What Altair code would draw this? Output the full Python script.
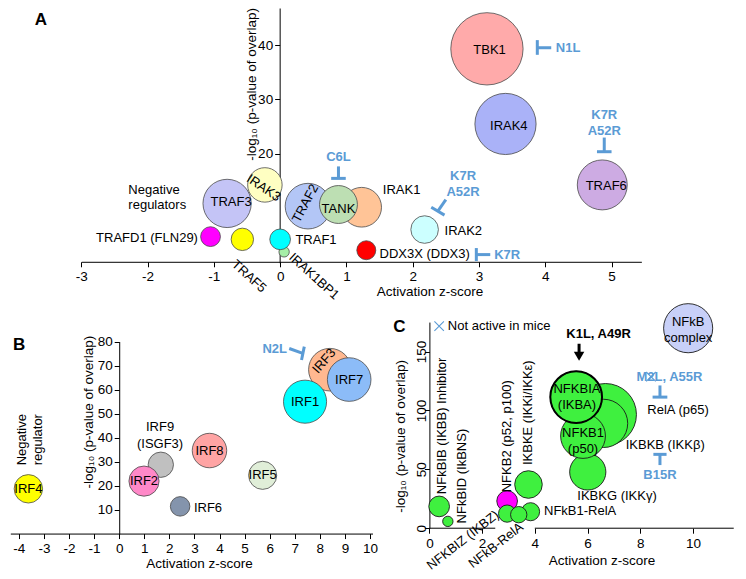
import altair as alt
import pandas as pd

FONT = "Liberation Sans"
BLUE = "#5b9bd5"
GREEN = "#3ff03f"
EDGE = "#4a4a4a"
YTITLE = "-log\u2081\u2080 (p-value of overlap)"
XTITLE = "Activation z-score"

# ---------------- Panel A data ----------------
A_NAMES = ["IRAK1BP1", "TRAF1", "TRAFD1", "TRAF5", "IRAK3", "TRAF3", "IRAK1",
           "TRAF2", "TANK", "DDX3X", "IRAK2", "TRAF6", "TBK1", "IRAK4"]
A_Z = [0.06, 0.00, -1.05, -0.57, -0.23, -0.80, 1.23, 0.42, 0.88, 1.30, 2.18, 4.86, 3.12, 3.40]
A_P = [2.0, 4.3, 4.8, 4.3, 14.3, 10.9, 10.2, 10.4, 10.7, 2.3, 6.1, 14.3, 39.3, 25.5]
A_SIZE = [0.36, 1.44, 1.32, 1.69, 4.0, 7.84, 5.3, 7.0, 4.84, 1.21, 2.56, 8.4, 17.6, 12.6]
A_COLORS = ["#a6eea6", "#00ffff", "#ff00ff", "#ffff00", "#ffffc2", "#c4c4f6", "#ffc497",
            "#b3c6f6", "#bddfb3", "#ff0000", "#ccffff", "#cdabe3", "#ffaaaa", "#aab2f8"]
A_XTICKS = [-3, -2, -1, 0, 1, 2, 3, 4, 5]
A_YTICKS = [20, 30, 40]

A_LEVEL_TEXT = ["TBK1", "IRAK4", "TRAF6", "TRAF3", "TANK"]
A_LEVEL_Z = [3.16, 3.45, 4.92, -0.74, 0.88]
A_LEVEL_P = [39.1, 25.2, 14.1, 11.1, 9.8]
A_RIGHT_TEXT = ["IRAK1", "TRAF1", "IRAK2", "DDX3X (DDX3)", "Negative\nregulators"]
A_RIGHT_Z = [1.55, 0.23, 2.48, 1.50, -2.29]
A_RIGHT_P = [13.4, 4.1, 5.9, 1.6, 13.4]
A_LEFT_TEXT = ["TRAFD1 (FLN29)"]
A_LEFT_Z = [-1.24]
A_LEFT_P = [4.5]
A_DOWN_TEXT = ["TRAF5", "IRAK1BP1"]
A_DOWN_Z = [-0.47, 0.51]
A_DOWN_P = [-2.5, -2.5]
A_TILT_TEXT = ["IRAK3"]
A_TILT_Z = [-0.25]
A_TILT_P = [13.75]
A_UP_TEXT = ["TRAF2"]
A_UP_Z = [0.38]
A_UP_P = [10.9]
A_BLUE_C_TEXT = ["C6L", "K7R\nA52R", "K7R\nA52R"]
A_BLUE_C_Z = [0.88, 4.89, 2.76]
A_BLUE_C_P = [19.5, 27.1, 15.9]
A_BLUE_L_TEXT = ["N1L", "K7R"]
A_BLUE_L_Z = [4.16, 3.23]
A_BLUE_L_P = [39.5, 1.5]
A_T_Z = [0.88, 0.77, 3.88, 3.88, 4.89, 4.78, 2.50, 2.28, 2.96, 2.96]
A_T_P = [17.7, 15.5, 40.9, 39.5, 23.0, 20.4, 11.6, 10.2, 2.7, 1.5]
A_T_Z2 = [0.88, 0.99, 3.88, 4.09, 4.89, 5.00, 2.38, 2.48, 2.96, 3.17]
A_T_P2 = [15.5, 15.5, 38.2, 39.5, 20.4, 20.4, 9.5, 8.75, 0.3, 1.5]

# ---------------- Panel B data ----------------
B_NAMES = ["IRF9", "IRF2", "IRF4", "IRF6", "IRF8", "IRF5", "IRF3", "IRF1", "IRF7"]
B_Z = [1.66, 0.99, -3.62, 2.43, 3.60, 5.72, 8.40, 7.41, 9.17]
B_P = [28.8, 22.0, 18.8, 11.5, 34.7, 24.4, 68.3, 55.0, 64.2]
B_SIZE = [2.16, 3.06, 2.72, 1.28, 4.0, 2.66, 6.1, 6.25, 6.4]
B_COLORS = ["#c0c0c0", "#ff88c8", "#ffff00", "#8494ac", "#ffa4a4", "#e0eed8",
            "#ffb890", "#00ffff", "#8cbcf8"]
B_XTICKS = [-4, -3, -2, -1, 0, 1, 2, 3, 4, 5, 6, 7, 8, 9, 10]
B_YTICKS = [10, 20, 30, 40, 50, 60, 70, 80]

B_LEVEL_TEXT = ["IRF2", "IRF4", "IRF8", "IRF5", "IRF1", "IRF7", "IRF9\n(ISGF3)"]
B_LEVEL_Z = [0.99, -3.62, 3.60, 5.72, 7.41, 9.17, 1.63]
B_LEVEL_P = [22.0, 18.8, 34.7, 24.4, 55.0, 64.2, 44.4]
B_RIGHT_TEXT = ["IRF6"]
B_RIGHT_Z = [2.98]
B_RIGHT_P = [10.9]
B_TILT_TEXT = ["IRF3"]
B_TILT_Z = [8.17]
B_TILT_P = [71.9]
B_VERT_TEXT = ["Negative\nregulator"]
B_VERT_Z = [-3.86]
B_VERT_P = [39.2]
B_BLUE_TEXT = ["N2L"]
B_BLUE_Z = [6.2]
B_BLUE_P = [77.1]
B_T_Z = [6.78, 7.38]
B_T_P = [77.1, 77.9]
B_T_Z2 = [7.32, 7.27]
B_T_P2 = [75.1, 72.3]

# ---------------- Panel C data ----------------
C_NAMES = ["NFkB complex", "RelA", "IKBKB", "IKBKG", "NFKB1", "NFKBIA", "NFKBIB",
           "NFKBID", "NFKB2", "IKBKE", "NFKBIZ", "NFkB1-RelA", "NFkB-RelA"]
C_Z = [9.82, 6.68, 6.61, 6.01, 5.83, 5.57, 0.37, 0.70, 2.95, 3.76, 2.95, 3.84, 3.39]
C_P = [169.8, 96.5, 89.0, 47.8, 78.3, 111.3, 18.5, 5.8, 23.1, 37.1, 12.4, 14.0, 11.5]
C_SIZE = [8.12, 12.96, 7.84, 4.41, 6.76, 9.0, 1.44, 0.36, 1.44, 2.56, 1.0, 1.1, 0.9]
C_COLORS = ["#c8d0f8", GREEN, GREEN, GREEN, GREEN, GREEN, GREEN,
            GREEN, "#ff00ff", GREEN, GREEN, GREEN, GREEN]
C_HIGHLIGHT = ["NFKBIA"]
C_XTICKS = [0, 2, 4, 6, 8, 10]
C_YTICKS = [0, 50, 100, 150]
C_AXIS_Z = [0.0, 4.0]
C_AXIS_Z2 = [2.5, 11.55]

C_LEVEL_TEXT = ["NFKBIA\n(IKBA)", "NFKB1\n(p50)", "NFkB\ncomplex", "IKBKG (IKK\u03b3)"]
C_LEVEL_Z = [5.6, 5.83, 9.82, 7.12]
C_LEVEL_P = [117.9, 80.8, 174.8, 27.2]
C_RIGHT_TEXT = ["NFkB1-RelA", "RelA (p65)", "IKBKB (IKK\u03b2)", "Not active in mice"]
C_RIGHT_Z = [4.35, 8.27, 7.45, 0.70]
C_RIGHT_P = [14.8, 100.6, 70.9, 171.5]
C_UP_TEXT = ["NFkBIB (IKBB) Inhibitor", "NFkBID (IkBNS)", "NFKB2 (p52, p100)", "IKBKE (IKKi/IKK\u03b5)"]
C_UP_Z = [0.46, 1.22, 2.94, 3.73]
C_UP_P = [28.9, 4.1, 30.5, 53.6]
C_SLANT_TEXT = ["NFKBIZ (IKBZ)", "NFkB-RelA"]
C_SLANT_Z = [2.58, 3.50]
C_SLANT_P = [12.6, 2.4]
C_BLUE_TEXT = ["M2L, A55R", "B15R"]
C_BLUE_Z = [9.11, 8.75]
C_BLUE_P = [128.6, 45.3]
C_BOLD_TEXT = ["K1L, A49R"]
C_BOLD_Z = [6.42]
C_BOLD_P = [164.9]
C_CROSS_Z = [0.37, 8.41]
C_CROSS_P = [171.5, 128.6]
C_T_Z = [8.75, 8.47, 8.50, 8.75]
C_T_P = [121.2, 111.3, 62.7, 62.7]
C_T_Z2 = [8.75, 9.03, 9.00, 8.75]
C_T_P2 = [111.3, 111.3, 62.7, 53.6]
C_ARROW_Z = [5.68]
C_ARROW_P = [156.6]
C_ARROW_P2 = [149.0]
C_HEAD_P = [146.0]

LETTERS = ["A", "B", "C"]
LETTER_Z = [-3.61, -3.99, -1.14]
LETTER_P = [44.6, 78.4, 170.6]

# ---------------- layout helpers ----------------
W, H = 730, 563
S = H / 579.0
OX = (W - 746 * S) / 2.0


def X(px):
    return OX + px * S


def Y(py):
    return py * S


SIZE_SCALE = alt.Scale(domain=[0, 10], range=[0, 1000 * 3.14159 * S * S], zero=True)
AXIS_STYLE = dict(
    labelFont=FONT, labelFontSize=13.5, labelColor="black",
    titleFont=FONT, titleFontSize=13.5, titleFontWeight="normal", titleColor="black",
    domainColor="black", tickColor="black", domainWidth=1, tickWidth=1,
    labelFlush=False, labelOverlap=False, grid=False, tickSize=5,
    labelExpr="datum.value + ''",
)


def bubbles(names, zs, ps, sizes, colors, xs, ys, xaxis, yaxis, sw=0.8, stroke=EDGE):
    df = pd.DataFrame({"name": names, "z": zs, "p": ps, "s": sizes,
                       "k": list(range(len(names)))})
    return alt.Chart(df).mark_circle(opacity=1, stroke=stroke, strokeWidth=sw).encode(
        x=alt.X("z:Q", scale=xs, axis=xaxis),
        y=alt.Y("p:Q", scale=ys, axis=yaxis),
        size=alt.Size("s:Q", scale=SIZE_SCALE, legend=None),
        color=alt.Color("name:N", scale=alt.Scale(domain=names, range=colors), legend=None),
        order=alt.Order("k:Q"),
    )


def texts(t, zs, ps, xs, ys, align="center", angle=0, color="black", size=13,
          weight="normal", baseline="middle", lh=15):
    df = pd.DataFrame({"t": t, "z": zs, "p": ps})
    return alt.Chart(df).mark_text(
        font=FONT, fontSize=size, fontWeight=weight, color=color, align=align,
        baseline=baseline, angle=angle, lineBreak="\n", lineHeight=lh,
    ).encode(
        x=alt.X("z:Q", scale=xs, axis=None),
        y=alt.Y("p:Q", scale=ys, axis=None),
        text="t:N",
    )


def segs(z, p, z2, p2, xs, ys, color=BLUE, width=3):
    df = pd.DataFrame({"z": z, "p": p, "z2": z2, "p2": p2})
    return alt.Chart(df).mark_rule(color=color, strokeWidth=width, strokeCap="butt").encode(
        x=alt.X("z:Q", scale=xs, axis=None),
        y=alt.Y("p:Q", scale=ys, axis=None),
        x2="z2:Q",
        y2="p2:Q",
    )


def xaxis(values, ypix, tx, ty, domain=True):
    return alt.Axis(orient="bottom", offset=Y(ypix) - H, values=values, title=XTITLE,
                    titleX=X(tx), titleY=(ty - ypix) * S, titleAlign="center",
                    titleBaseline="middle", domain=domain, labelPadding=3, **AXIS_STYLE)


def yaxis(values, xpix, tx, ty, pad=2, **kw):
    return alt.Axis(orient="left", offset=-X(xpix), values=values, title=YTITLE,
                    titleX=(tx - xpix) * S, titleY=Y(ty), titleAngle=270,
                    titleAlign="center", titleBaseline="middle", labelPadding=pad,
                    **AXIS_STYLE, **kw)


# ---------------- Panel A ----------------
xsA = alt.Scale(domain=[-3, 5.45], range=[X(73), X(649)], nice=False, zero=False)
ysA = alt.Scale(domain=[0, 46.8], range=[Y(262), Y(0)], nice=False, zero=False)
layersA = [
    bubbles(A_NAMES, A_Z, A_P, A_SIZE, A_COLORS, xsA, ysA,
            xaxis(A_XTICKS, 261, 431, 292), yaxis(A_YTICKS, 277, 248, 78)),
    texts(A_LEVEL_TEXT, A_LEVEL_Z, A_LEVEL_P, xsA, ysA),
    texts(A_RIGHT_TEXT, A_RIGHT_Z, A_RIGHT_P, xsA, ysA, align="left"),
    texts(A_LEFT_TEXT, A_LEFT_Z, A_LEFT_P, xsA, ysA, align="right"),
    texts(A_DOWN_TEXT, A_DOWN_Z, A_DOWN_P, xsA, ysA, angle=42),
    texts(A_TILT_TEXT, A_TILT_Z, A_TILT_P, xsA, ysA, angle=34),
    texts(A_UP_TEXT, A_UP_Z, A_UP_P, xsA, ysA, angle=298),
    texts(A_BLUE_C_TEXT, A_BLUE_C_Z, A_BLUE_C_P, xsA, ysA, color=BLUE, weight="bold", lh=16),
    texts(A_BLUE_L_TEXT, A_BLUE_L_Z, A_BLUE_L_P, xsA, ysA, align="left", color=BLUE, weight="bold"),
    segs(A_T_Z, A_T_P, A_T_Z2, A_T_P2, xsA, ysA),
    texts(LETTERS[:1], LETTER_Z[:1], LETTER_P[:1], xsA, ysA, size=17, weight="bold"),
]

# ---------------- Panel B ----------------
xsB = alt.Scale(domain=[-4.34, 10.1], range=[X(0), X(372.5)], nice=False, zero=False)
ysB = alt.Scale(domain=[0, 80], range=[Y(541), Y(343)], nice=False, zero=False)
layersB = [
    bubbles(B_NAMES, B_Z, B_P, B_SIZE, B_COLORS, xsB, ysB,
            xaxis(B_XTICKS, 540.5, 194, 571), yaxis(B_YTICKS, 112, 80, 415)),
    texts(B_LEVEL_TEXT, B_LEVEL_Z, B_LEVEL_P, xsB, ysB, lh=17),
    texts(B_RIGHT_TEXT, B_RIGHT_Z, B_RIGHT_P, xsB, ysB, align="left"),
    texts(B_TILT_TEXT, B_TILT_Z, B_TILT_P, xsB, ysB, angle=311),
    texts(B_VERT_TEXT, B_VERT_Z, B_VERT_P, xsB, ysB, angle=270, lh=16),
    texts(B_BLUE_TEXT, B_BLUE_Z, B_BLUE_P, xsB, ysB, color=BLUE, weight="bold"),
    segs(B_T_Z, B_T_P, B_T_Z2, B_T_P2, xsB, ysB),
    texts(LETTERS[1:2], LETTER_Z[1:2], LETTER_P[1:2], xsB, ysB, size=17, weight="bold"),
]

# ---------------- Panel C ----------------
xsC = alt.Scale(domain=[0, 11.55], range=[X(431), X(744)], nice=False, zero=False)
ysC = alt.Scale(domain=[0, 175], range=[Y(535), Y(323)], nice=False, zero=False)
cdf = pd.DataFrame({"name": C_NAMES, "z": C_Z, "p": C_P, "s": C_SIZE})
ring = alt.Chart(cdf).transform_filter(
    alt.FieldOneOfPredicate(field="name", oneOf=C_HIGHLIGHT)
).mark_point(filled=False, stroke="black", strokeWidth=2, opacity=1, shape="circle").encode(
    x=alt.X("z:Q", scale=xsC, axis=None),
    y=alt.Y("p:Q", scale=ysC, axis=None),
    size=alt.Size("s:Q", scale=SIZE_SCALE, legend=None),
)
axis_line = segs(C_AXIS_Z, [0, 0], C_AXIS_Z2, [0, 0], xsC, ysC, color="black", width=1)
cross_df = pd.DataFrame({"z": C_CROSS_Z, "p": C_CROSS_P})
crosses = alt.Chart(cross_df).mark_point(
    shape="M-1,-1L1,1M-1,1L1,-1", filled=False, color=BLUE, strokeWidth=1.1, size=90, opacity=1
).encode(x=alt.X("z:Q", scale=xsC, axis=None), y=alt.Y("p:Q", scale=ysC, axis=None))
head_df = pd.DataFrame({"z": C_ARROW_Z, "p": C_HEAD_P})
head = alt.Chart(head_df).mark_point(
    shape="triangle-down", filled=True, color="black", size=110, opacity=1
).encode(x=alt.X("z:Q", scale=xsC, axis=None), y=alt.Y("p:Q", scale=ysC, axis=None))

layersC = [
    bubbles(C_NAMES, C_Z, C_P, C_SIZE, C_COLORS, xsC, ysC,
            xaxis(C_XTICKS, 535, 608, 568, domain=False),
            yaxis(C_YTICKS, 431, 401, 440, pad=3, labelAngle=270, labelAlign="center",
                  labelBaseline="middle"),
            sw=0.9, stroke="#1a1a1a"),
    ring,
    axis_line,
    texts(C_LEVEL_TEXT, C_LEVEL_Z, C_LEVEL_P, xsC, ysC, lh=16),
    texts(C_RIGHT_TEXT, C_RIGHT_Z, C_RIGHT_P, xsC, ysC, align="left"),
    texts(C_UP_TEXT, C_UP_Z, C_UP_P, xsC, ysC, align="left", angle=270),
    texts(C_SLANT_TEXT, C_SLANT_Z, C_SLANT_P, xsC, ysC, align="right", angle=322),
    texts(C_BLUE_TEXT, C_BLUE_Z, C_BLUE_P, xsC, ysC, color=BLUE, weight="bold"),
    texts(C_BOLD_TEXT, C_BOLD_Z, C_BOLD_P, xsC, ysC, weight="bold"),
    crosses,
    segs(C_T_Z, C_T_P, C_T_Z2, C_T_P2, xsC, ysC),
    segs(C_ARROW_Z, C_ARROW_P, C_ARROW_Z, C_ARROW_P2, xsC, ysC, color="black", width=3),
    head,
    texts(LETTERS[2:], LETTER_Z[2:], LETTER_P[2:], xsC, ysC, size=17, weight="bold"),
]

chart = alt.layer(*(layersA + layersB + layersC)).resolve_scale(
    x="independent", y="independent", size="independent", color="independent"
).resolve_axis(
    x="independent", y="independent"
).properties(
    width=W, height=H, padding=0, autosize=alt.AutoSizeParams(type="none")
).configure_view(
    strokeWidth=0
)

chart.save("out.html", embed_options={"renderer": "svg", "actions": False})
